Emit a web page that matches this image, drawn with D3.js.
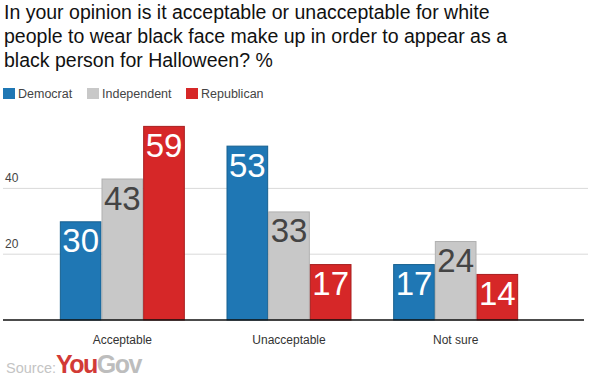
<!DOCTYPE html>
<html>
<head>
<meta charset="utf-8">
<script src="https://cdn.jsdelivr.net/npm/d3@7"></script>
<style>
  body { margin: 0; background: #fff; }
  svg { font-family: "Liberation Sans", Arial, sans-serif; }
</style>
</head>
<body>
<div id="chart"></div>
<script>
var categories = ["Acceptable", "Unacceptable", "Not sure"];
var parties = ["Democrat", "Independent", "Republican"];
var democrat = [30, 53, 17];
var independent = [43, 33, 24];
var republican = [59, 17, 14];
var yTicks = [20, 40];
var titleLines = [
    "In your opinion is it acceptable or unacceptable for white",
    "people to wear black face make up in order to appear as a",
    "black person for Halloween? %"
];

var width = 600,
    height = 384;

var fills = ["#1f77b4", "#c8c8c8", "#d62728"],
    strokes = ["#17608f", "#b0b0b0", "#a81e1f"],
    labelColors = ["#fff", "#444", "#fff"];

var svg = d3.select("#chart")
    .append("svg")
    .attr("width", width)
    .attr("height", height)

// title
svg.append("g").selectAll("text")
    .data(titleLines)
    .enter().append("text")
    .attr("x", 4)
    .attr("y", function(d, i) { return 19 + i * 24 })
    .attr("font-size", 19.5)
    .attr("fill", "#111")
    .text(function(d) { return d })

// legend
var legendX = [3, 87, 186];
var legend = svg.append("g").selectAll("g")
    .data(parties)
    .enter().append("g")
    .attr("transform", function(d, i) { return "translate(" + legendX[i] + ",88)" })
legend.append("rect")
    .attr("width", 12)
    .attr("height", 11)
    .attr("fill", function(d, i) { return fills[i] })
legend.append("text")
    .attr("x", 15)
    .attr("y", 10)
    .attr("font-size", 12.5)
    .attr("fill", "#444")
    .text(function(d) { return d })

var x0 = d3.scaleBand()
    .domain(categories)
    .range([39, 539])
    .paddingInner(0.25)
    .paddingOuter(0.125)

var x1 = d3.scaleBand()
    .domain(parties)
    .range([0, x0.bandwidth()])

var y = d3.scaleLinear()
    .domain([0, 60])
    .range([320, 122.6])

// grid
var grid = svg.append("g").selectAll("g")
    .data(yTicks)
    .enter().append("g")
grid.append("line")
    .attr("x1", 3)
    .attr("x2", 588)
    .attr("y1", function(d) { return y(d) })
    .attr("y2", function(d) { return y(d) })
    .attr("stroke", "#d9d9d9")
    .attr("stroke-width", 1)
grid.append("text")
    .attr("x", 5)
    .attr("y", function(d) { return y(d) - 6 })
    .attr("font-size", 12)
    .attr("fill", "#444")
    .text(function(d) { return d })

var rows = categories.map(function(c, i) {
    return { cat: c, values: [democrat[i], independent[i], republican[i]] }
})

var groups = svg.append("g").selectAll("g")
    .data(rows)
    .enter().append("g")
    .attr("transform", function(d) { return "translate(" + x0(d.cat) + ",0)" })

var bars = groups.selectAll("g")
    .data(function(d) { return d.values.map(function(v, i) { return { party: parties[i], value: v, i: i } }) })
    .enter().append("g")

bars.append("rect")
    .attr("x", function(d) { return x1(d.party) + 0.5 })
    .attr("y", function(d) { return y(d.value) + 0.5 })
    .attr("width", x1.bandwidth() - 1)
    .attr("height", function(d) { return y(0) - y(d.value) - 0.5 })
    .attr("fill", function(d) { return fills[d.i] })
    .attr("stroke", function(d) { return strokes[d.i] })
    .attr("stroke-width", 1)

bars.append("text")
    .attr("x", function(d) { return x1(d.party) + x1.bandwidth() / 2 })
    .attr("y", function(d) { return y(d.value) + 31 })
    .attr("text-anchor", "middle")
    .attr("font-size", 33)
    .attr("fill", function(d) { return labelColors[d.i] })
    .text(function(d) { return d.value })

// baseline
svg.append("line")
    .attr("x1", 3)
    .attr("x2", 584)
    .attr("y1", y(0))
    .attr("y2", y(0))
    .attr("stroke", "#111")
    .attr("stroke-width", 1.5)

// category labels
svg.append("g").selectAll("text")
    .data(categories)
    .enter().append("text")
    .attr("x", function(d) { return x0(d) + x0.bandwidth() / 2 })
    .attr("y", 344)
    .attr("text-anchor", "middle")
    .attr("font-size", 12)
    .attr("fill", "#333")
    .text(function(d) { return d })

// source
var src = svg.append("text")
    .attr("x", 6)
    .attr("y", 373)
src.append("tspan")
    .attr("font-size", 14.5)
    .attr("fill", "#c4c4c4")
    .text("Source:")
src.append("tspan")
    .attr("font-size", 25)
    .attr("font-weight", "bold")
    .attr("letter-spacing", -1.5)
    .attr("fill", "#d23a36")
    .text("You")
src.append("tspan")
    .attr("font-size", 25)
    .attr("font-weight", "bold")
    .attr("letter-spacing", -1.5)
    .attr("fill", "#bdbdbd")
    .text("Gov")
</script>
</body>
</html>
